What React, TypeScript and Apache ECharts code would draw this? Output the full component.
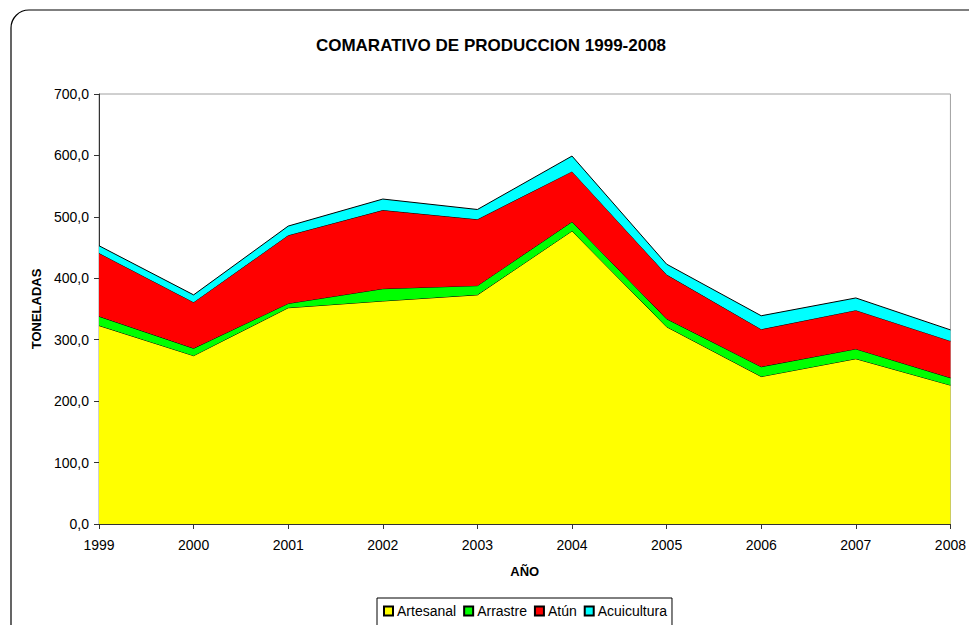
import React, { useEffect, useRef } from "react";
import * as echarts from "echarts";

const years = ["1999", "2000", "2001", "2002", "2003", "2004", "2005", "2006", "2007", "2008"];
const artesanal = [323, 274, 352, 363, 373, 477, 321, 240, 269, 226];
const arrastre = [15, 12, 7, 20, 15, 15, 13, 16, 16, 12];
const atun = [103, 75, 111, 128, 108, 82, 72, 61, 63, 60];
const acuicultura = [12, 12, 15, 18, 16, 25, 17, 22, 20, 18];

const seriesNames = ["Artesanal", "Arrastre", "Atún", "Acuicultura"];
const seriesColors = ["#FFFF00", "#00FF00", "#FF0000", "#00FFFF"];
const seriesData = [artesanal, arrastre, atun, acuicultura];

const FONT = "Liberation Sans, Arial, sans-serif";

export default function App() {
  const ref = useRef<HTMLDivElement>(null);
  useEffect(() => {
    document.body.style.margin = "0";
    const chart = echarts.init(ref.current!, null, { renderer: "svg" });
    chart.setOption({
      animation: false,
      backgroundColor: "#ffffff",
      textStyle: { fontFamily: FONT },
      title: {
        text: "COMARATIVO DE PRODUCCION 1999-2008",
        left: 486,
        textAlign: "center",
        top: 32,
        textStyle: { fontSize: 17, fontWeight: "bold", color: "#000", fontFamily: FONT },
      },
      graphic: [
        {
          type: "rect",
          shape: { x: 11, y: 10, width: 1000, height: 700, r: 18 },
          style: { fill: "none", stroke: "#000", lineWidth: 1.2 },
          silent: true,
        },
      ],
      legend: {
        data: seriesNames,
        top: 598,
        left: 377,
        itemWidth: 9,
        itemHeight: 9,
        itemGap: 7,
        padding: [6, 5, 10, 6],
        borderColor: "#000",
        borderWidth: 1,
        icon: "rect",
        textStyle: { fontSize: 14, color: "#000", fontFamily: FONT, padding: [0, 0, 0, -1] },
      },
      grid: {
        left: 99,
        right: 16,
        top: 94,
        bottom: 101,
        show: true,
        borderColor: "#a0a0a0",
        borderWidth: 1,
        backgroundColor: "transparent",
      },
      xAxis: {
        type: "category",
        data: years,
        boundaryGap: false,
        name: "AÑO",
        nameLocation: "middle",
        nameGap: 41,
        nameTextStyle: { fontSize: 13, fontWeight: "bold", color: "#000", fontFamily: FONT },
        axisLine: { lineStyle: { color: "#333", width: 1 } },
        axisTick: { alignWithLabel: true, length: 5, lineStyle: { color: "#333" } },
        axisLabel: { fontSize: 14, color: "#000", margin: 14, fontFamily: FONT },
        splitLine: { show: false },
      },
      yAxis: {
        type: "value",
        min: 0,
        max: 700,
        interval: 100,
        name: "TONELADAS",
        nameLocation: "middle",
        nameRotate: 90,
        nameGap: 55,
        nameTextStyle: { fontSize: 13, fontWeight: "bold", color: "#000", fontFamily: FONT },
        axisLine: { show: true, lineStyle: { color: "#333", width: 1 } },
        axisTick: { show: true, length: 5, lineStyle: { color: "#333" } },
        axisLabel: {
          fontSize: 14,
          color: "#000",
          margin: 10,
          fontFamily: FONT,
          formatter: (v: number) => v.toFixed(1).replace(".", ","),
        },
        splitLine: { show: false },
      },
      series: seriesNames.map((name, i) => ({
        name,
        type: "line",
        stack: "total",
        data: seriesData[i],
        symbol: "none",
        lineStyle: { color: "#000", width: 1 },
        itemStyle: { color: seriesColors[i], borderColor: "#000", borderWidth: 1 },
        areaStyle: { color: seriesColors[i], opacity: 1 },
        z: 2 + i,
      })),
    });
    return () => chart.dispose();
  }, []);
  return <div ref={ref} style={{ width: 969, height: 625 }} />;
}
